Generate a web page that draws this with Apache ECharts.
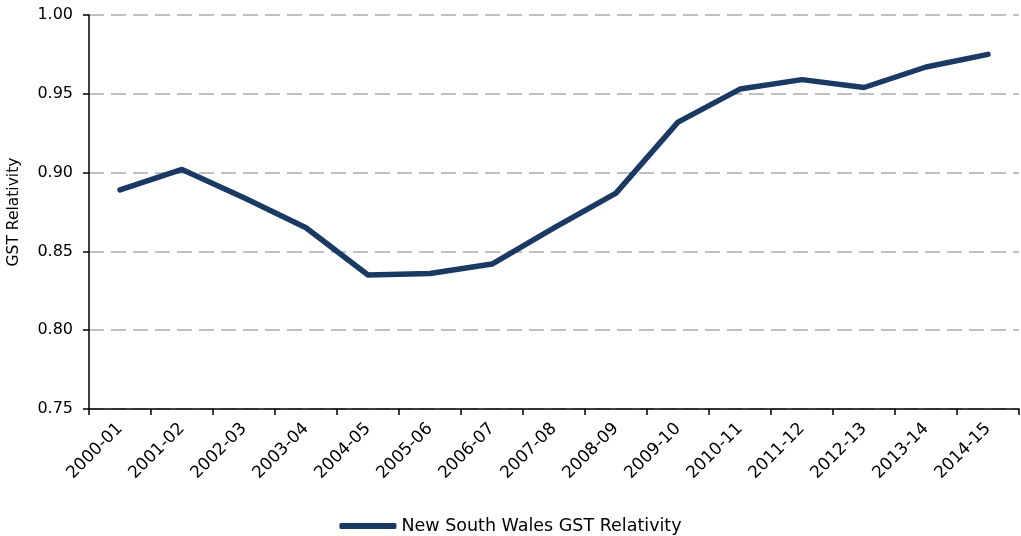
<!DOCTYPE html>
<html>
<head>
<meta charset="utf-8">
<script src="https://cdn.jsdelivr.net/npm/echarts@6/dist/echarts.min.js"></script>
<style>
  html, body { margin: 0; padding: 0; background: #fff; }
  #chart { width: 1021px; height: 536px; }
</style>
</head>
<body>
<div id="chart"></div>
<script>
// Financial years on the category axis
const years = ['2000-01', '2001-02', '2002-03', '2003-04', '2004-05', '2005-06', '2006-07',
  '2007-08', '2008-09', '2009-10', '2010-11', '2011-12', '2012-13', '2013-14', '2014-15'];

// NSW GST relativity per year
const nswRelativity = [0.889, 0.902, 0.884, 0.865, 0.835, 0.836, 0.842,
  0.865, 0.887, 0.932, 0.953, 0.959, 0.954, 0.967, 0.975];

const seriesName = 'New South Wales GST Relativity';
const yAxisName = 'GST Relativity';

const FONT = 'DejaVu Sans';
const NAVY = '#1b3a63';
const chart = echarts.init(document.getElementById('chart'));
chart.setOption({
  animation: false,
  backgroundColor: '#ffffff',
  textStyle: { fontFamily: FONT, color: '#000' },
  grid: { left: 89, right: 2, top: 15, bottom: 127, containLabel: false, outerBoundsMode: 'none' },
  legend: {
    data: [seriesName],
    bottom: 1,
    padding: 0,
    left: 'center',
    icon: 'roundRect',
    itemWidth: 57,
    itemHeight: 6,
    textStyle: { fontFamily: FONT, fontSize: 17.5, color: '#000' }
  },
  xAxis: {
    type: 'category',
    data: years,
    boundaryGap: true,
    axisLine: { lineStyle: { color: '#000', width: 1.5 } },
    axisTick: { show: true, length: 6, alignWithLabel: false, lineStyle: { color: '#000', width: 1.5 } },
    axisLabel: { rotate: 45, fontSize: 17, color: '#000', fontFamily: FONT, margin: 17, interval: 0 },
    splitLine: { show: false }
  },
  yAxis: {
    type: 'value',
    min: 0.75,
    max: 1.0,
    interval: 0.05,
    name: yAxisName,
    nameLocation: 'middle',
    nameGap: 67,
    nameTextStyle: { fontSize: 15.5, color: '#000', fontFamily: FONT },
    axisLine: { show: true, lineStyle: { color: '#000', width: 1.5 } },
    axisTick: { show: true, length: 6, lineStyle: { color: '#000', width: 1.5 } },
    axisLabel: { fontSize: 16, color: '#000', fontFamily: FONT, margin: 16,
      formatter: v => v.toFixed(2) },
    splitLine: { show: true, lineStyle: { color: '#c0c0c0', width: 2, type: [15, 7] } }
  },
  series: [{
    name: seriesName,
    type: 'line',
    data: nswRelativity,
    symbol: 'none',
    smooth: false,
    lineStyle: { color: NAVY, width: 5.5, cap: 'round', join: 'round' },
    itemStyle: { color: NAVY }
  }]
});
</script>
</body>
</html>
